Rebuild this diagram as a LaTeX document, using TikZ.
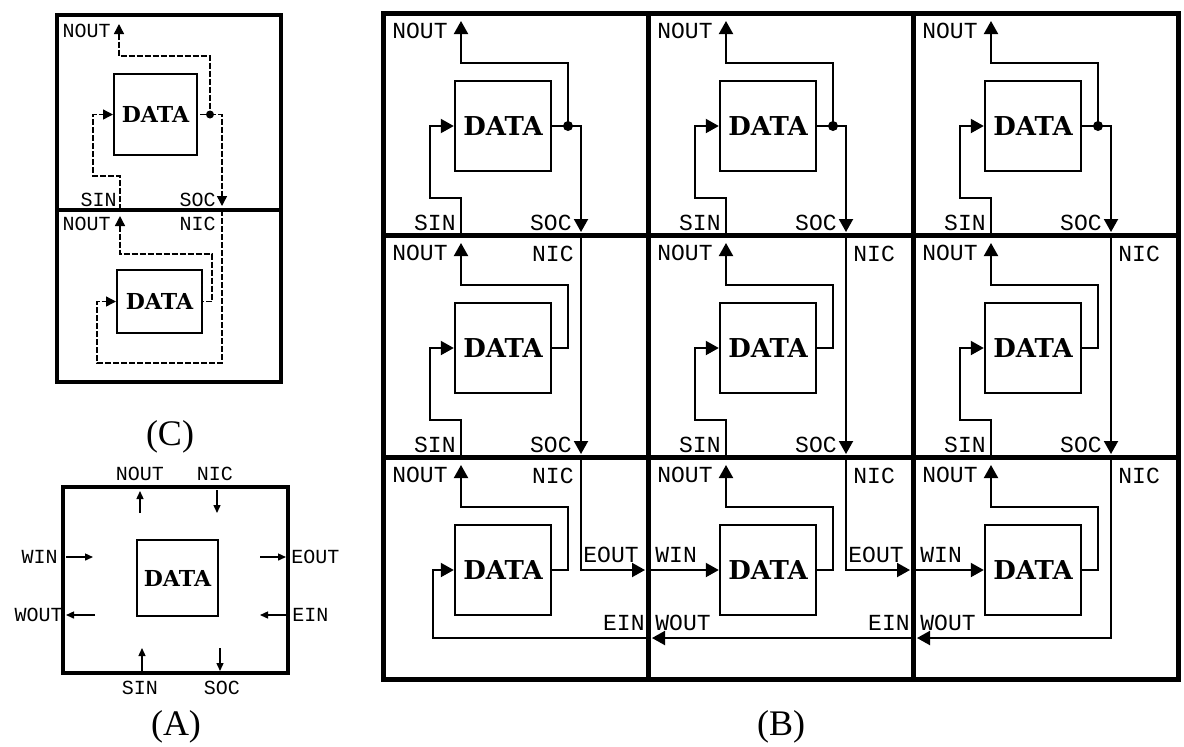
\documentclass[tikz,border=0pt]{standalone}
\usepackage{fontspec}
\setmainfont{Liberation Serif}
\setmonofont{Liberation Mono}
\newfontfamily\datafont{DejaVu Serif}
\usetikzlibrary{arrows.meta}

\tikzset{
  rahmen/.style={line width=2.5pt},
  rahmenc/.style={line width=2pt},
  datbox/.style={draw, line width=1.2pt, minimum width=48pt, minimum height=45pt, inner sep=0pt,
    font=\datafont\bfseries\fontsize{13}{13}\selectfont},
  datc/.style={datbox, line width=1pt, font=\datafont\bfseries\fontsize{11}{11}\selectfont},
  ltg/.style={line width=1pt},
  pfeil/.style={ltg, -{Triangle[length=6.5pt,width=7pt]}},
  pfeilan/.style={ltg, {Triangle[length=6.5pt,width=7pt]}-},
  ltgc/.style={line width=0.7pt, dash pattern=on 3pt off 1pt},
  pfeilc/.style={ltgc, -{Triangle[length=5pt,width=5pt]}},
  pfeilcan/.style={ltgc, {Triangle[length=5pt,width=5pt]}-},
  pfeila/.style={line width=0.7pt, -{Triangle[length=4pt,width=3.5pt]}},
  lbl/.style={inner sep=0pt, font=\ttfamily\fontsize{11.5}{12}\selectfont},
  lblc/.style={inner sep=0pt, font=\ttfamily\fontsize{10}{10}\selectfont},
  titel/.style={font=\fontsize{18}{18}\selectfont},
}

\begin{document}
\begin{tikzpicture}[x=0.5pt, y=-0.5pt]
\useasboundingbox (0,0) rectangle (1184,746);

% Teilbild (C): zwei Zellen uebereinander
\node[datc, minimum width=41.5pt, minimum height=40.5pt] (c1) at (155.5,114.5) {DATA};
\node[datc, minimum width=42.5pt, minimum height=31.5pt] (c2) at (159.5,301.5) {DATA};
\coordinate (c1n) at (119,24);
\coordinate (c1p) at (210,114.5);
\coordinate (c1o) at (222,206);
\coordinate (c1s) at (120,210);
\coordinate (c1l) at (93,176);
\coordinate (c2n) at (120,216);
\coordinate (c2p) at (212,301.5);
\coordinate (c2i) at (222,210);
\coordinate (c2l) at (97,363);
\draw[pfeilcan] (c1n) -- ++(0,32) -| (c1p) -- (c1.east);
\draw[pfeilc] (c1p) -| (c1o);
\fill (c1p) circle (2pt);
\draw[pfeilc] (c1s) |- (c1l) |- (c1.west);
\draw[pfeilcan] (c2n) -- ++(0,38) -| (c2p) -- (c2.east);
\draw[pfeilc] (c2i) |- (c2l) |- (c2.west);
\draw[rahmenc] (57,15) rectangle (281,382);
\draw[rahmenc] (57,210) -- (281,210);
\node[lblc, anchor=east] (cNo) at (111,31) {NOUT};
\node[lblc, anchor=east] (cSi) at (117,200) {SIN};
\node[lblc, anchor=east] (cSo) at (216,200) {SOC};
\node[lblc, anchor=east] (cNu) at (111,224) {NOUT};
\node[lblc, anchor=east] (cNi) at (216,224) {NIC};
\node[titel] (capC) at (170,437) {(C)};

% Teilbild (A): eine Zelle mit allen Anschluessen
\draw[rahmenc] (63,487) rectangle (288,673);
\node[datc, minimum width=40.5pt, minimum height=38pt] (a) at (177.5,578) {DATA};
\coordinate (aN) at (140,491);
\coordinate (aI) at (217,490);
\coordinate (aW) at (66,557);
\coordinate (aU) at (66,615);
\coordinate (aE) at (286,557);
\coordinate (aV) at (286,615);
\coordinate (aS) at (142,648);
\coordinate (aO) at (220,648);
\draw[pfeila] (aN) ++(0,22) -- (aN);
\draw[pfeila] (aI) -- ++(0,23);
\draw[pfeila] (aW) -- ++(27,0);
\draw[pfeila] (aU) ++(29,0) -- (aU);
\draw[pfeila] (aE) ++(-26,0) -- (aE);
\draw[pfeila] (aV) -- ++(-26,0);
\draw[pfeila] (aS) ++(0,23) -- (aS);
\draw[pfeila] (aO) -- ++(0,23);
\node[lblc] (aNl) at (140,474) {NOUT};
\node[lblc] (aIl) at (215,474) {NIC};
\node[lblc, anchor=east] (aWl) at (58,557) {WIN};
\node[lblc, anchor=east] (aUl) at (63,615) {WOUT};
\node[lblc, anchor=west] (aEl) at (291,557) {EOUT};
\node[lblc, anchor=west] (aVl) at (292,615) {EIN};
\node[lblc] (aSl) at (140,688) {SIN};
\node[lblc] (aOl) at (222,688) {SOC};
\node[titel] (capA) at (176,727) {(A)};

% Teilbild (B): 3x3 Gitter
\foreach \i in {0,1,2} \foreach \j in {0,1,2} {
  \begin{scope}[shift={(383+265*\i,13+222*\j)}]
    \node[datbox] (d\i\j) at (120,113) {DATA};
    \coordinate (n\i\j) at (78,8);     % NOUT
    \coordinate (r\i\j) at (185,113);  % Abzweig rechts
    \coordinate (s\i\j) at (78,222);   % SIN
    \coordinate (l\i\j) at (47,185);   % Knick links
    \coordinate (o\i\j) at (198,219);  % SOC
    \coordinate (k\i\j) at (198,0);    % NIC
    \coordinate (e\i\j) at (262,113);  % EOUT
    \coordinate (w\i\j) at (0,113);    % WIN
    \coordinate (u\i\j) at (4,181);    % WOUT
    \coordinate (v\i\j) at (265,181);  % EIN
    \coordinate (m\i\j) at (50,181);
    \node[lbl, anchor=east] (tn\i\j) at (65,18) {NOUT};
    \ifnum\j<2
      \node[lbl, anchor=east] (ts\i\j) at (73,210) {SIN};
      \node[lbl, anchor=east] (to\i\j) at (189,210) {SOC};
    \fi
    \ifnum\j>0
      \ifnum\i=0
        \node[lbl, anchor=east] (tk\i\j) at (191,19) {NIC};
      \else
        \node[lbl, anchor=west] (tk\i\j) at (205,19) {NIC};
      \fi
    \fi
  \end{scope}
  % Ausgang nach oben
  \draw[pfeilan] (n\i\j) -- ++(0,42) -| (r\i\j) -- (d\i\j.east);
}

% Reihen 1 und 2: Eingang von unten
\foreach \i in {0,1,2} \foreach \j in {0,1} {
  \draw[pfeil] (s\i\j) |- (l\i\j) |- (d\i\j.west);
}
% Reihe 1 verzweigt nach SOC, Reihe 2 reicht durch
\foreach \i in {0,1,2} {
  \draw[pfeil] (r\i0) -| (o\i0);
  \fill (r\i0) circle (2.5pt);
  \draw[pfeil] (k\i1) -- (o\i1);
}

% Reihe 3: Ost-West-Verbindungen
\draw[pfeil] (k02) |- (e02);
\draw[pfeil] (v02) -- (m02) |- (d02.west);
\draw[pfeil] (w12) -- (d12.west);
\draw[pfeil] (k12) |- (e12);
\draw[pfeil] (v12) -- (u12);
\draw[pfeil] (w22) -- (d22.west);
\draw[pfeil] (k22) |- (u22);
\node[lbl, anchor=south west] (te0) at (583,563) {EOUT};
\node[lbl, anchor=south east] (tv0) at (645,631) {EIN};
\node[lbl, anchor=south west] (tw1) at (655,563) {WIN};
\node[lbl, anchor=south west] (tu1) at (655,631) {WOUT};
\node[lbl, anchor=south west] (te1) at (848,563) {EOUT};
\node[lbl, anchor=south east] (tv1) at (910,631) {EIN};
\node[lbl, anchor=south west] (tw2) at (920,563) {WIN};
\node[lbl, anchor=south west] (tu2) at (920,631) {WOUT};

% Rahmen
\draw[rahmen] (383,13) rectangle (1178,679);
\foreach \x in {648,913} \draw[rahmen] (\x,13) -- (\x,679);
\foreach \y in {235,457} \draw[rahmen] (383,\y) -- (1178,\y);
\node[titel] (capB) at (781,727) {(B)};
\end{tikzpicture}
\end{document}
